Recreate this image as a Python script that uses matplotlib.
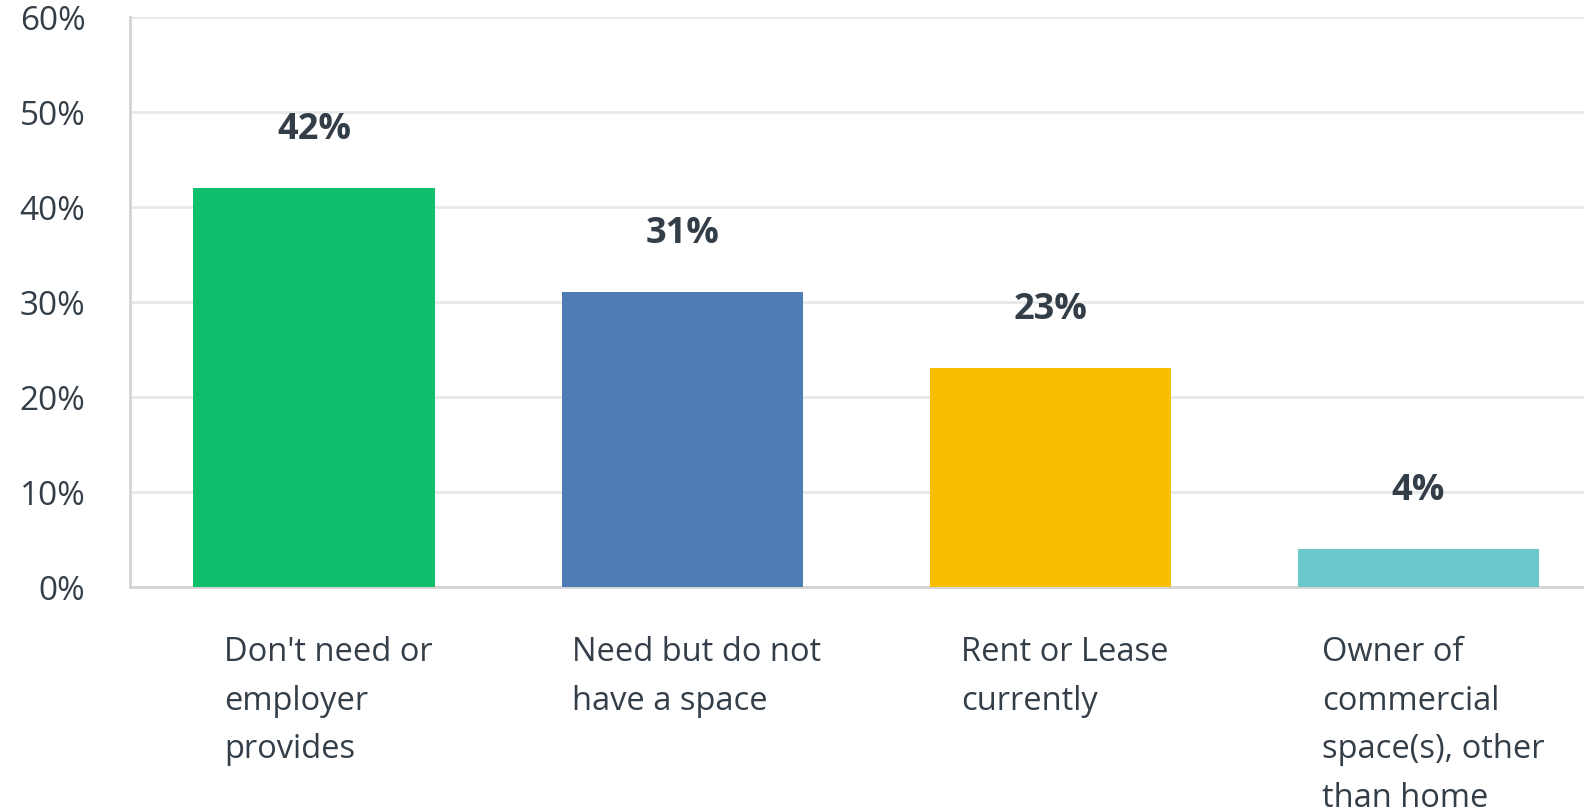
import matplotlib.pyplot as plt
from matplotlib.ticker import FuncFormatter

CATEGORIES = [
    "Don't need or\nemployer\nprovides",
    "Need but do not\nhave a space",
    "Rent or Lease\ncurrently",
    "Owner of\ncommercial\nspace(s), other\nthan home",
]
VALUES = [42, 31, 23, 4]
COLORS = ["#10bf6b", "#4f7cb4", "#f8be00", "#6bc8cc"]
YTICKS = [0, 10, 20, 30, 40, 50, 60]

TEXT = "#333e48"
plt.rcParams["font.family"] = ["Open Sans", "DejaVu Sans"]

fig = plt.figure(figsize=(15.84, 8.12), dpi=100)
ax = fig.add_axes([0.082, 0.276, 0.918, 0.702])

x = list(range(len(VALUES)))
ax.bar(x, VALUES, width=0.655, color=COLORS, zorder=3)

for xi, v in zip(x, VALUES):
    ax.text(xi, v + 6.2, f"{v}%", ha="center", va="center",
            fontsize=26, fontweight="bold", color=TEXT)

# category labels: left-aligned blocks sitting under each bar
for xi, lab in zip(x, CATEGORIES):
    ax.text(xi + 0.04, -5.1, lab, ha="center", va="top", multialignment="left",
            fontsize=23.5, color=TEXT, linespacing=1.62)

ax.set_xlim(-0.5, 3.45)
ax.set_ylim(0, 60)
ax.set_yticks(YTICKS)
ax.yaxis.set_major_formatter(FuncFormatter(lambda v, _: f"{v:.0f}%"))
ax.set_xticks([])
ax.tick_params(axis="y", length=0, pad=32, labelsize=24, labelcolor=TEXT)
ax.grid(axis="y", color="#e8e8e8", linewidth=2, zorder=0)
ax.set_axisbelow(True)

for side in ("top", "right"):
    ax.spines[side].set_visible(False)
for side in ("left", "bottom"):
    ax.spines[side].set_color("#d4d4d4")
    ax.spines[side].set_linewidth(2)

fig.savefig("out.png", dpi=100)
